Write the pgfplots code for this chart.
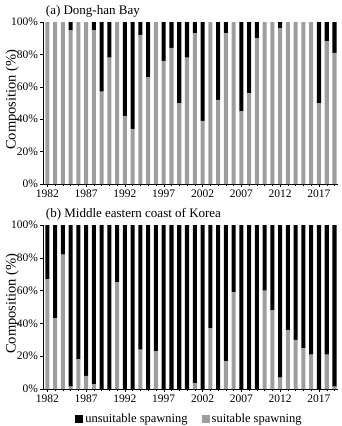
\documentclass[border=0pt]{standalone}
\usepackage{pgfplots}
\pgfplotsset{compat=1.18}
\usepackage{pgfplotstable}
\usepackage{fontspec}
\setmainfont{Liberation Serif}

\definecolor{suitgray}{gray}{0.62}

% Share (%) of suitable / unsuitable spawning conditions per year
\pgfplotstableread{
year suit unsuit
1982 100 0
1983 100 0
1984 100 0
1985 95 5
1986 100 0
1987 100 0
1988 95 5
1989 57 43
1990 78 22
1991 100 0
1992 42 58
1993 34 66
1994 92 8
1995 66 34
1996 100 0
1997 76 24
1998 84 16
1999 50 50
2000 78 22
2001 93 7
2002 39 61
2003 100 0
2004 52 48
2005 93 7
2006 100 0
2007 45 55
2008 56 44
2009 90 10
2010 100 0
2011 100 0
2012 96 4
2013 100 0
2014 100 0
2015 100 0
2016 100 0
2017 50 50
2018 88 12
2019 81 19
}\bay

\pgfplotstableread{
year suit unsuit
1982 67 33
1983 43 57
1984 82 18
1985 1.5 98.5
1986 18 82
1987 8 92
1988 3 97
1989 0 100
1990 0 100
1991 65 35
1992 0 100
1993 0 100
1994 24 76
1995 0 100
1996 23 77
1997 0 100
1998 0 100
1999 0 100
2000 0 100
2001 3.5 96.5
2002 0 100
2003 37 63
2004 0 100
2005 17 83
2006 59 41
2007 0 100
2008 0 100
2009 0 100
2010 60 40
2011 48 52
2012 7 93
2013 36 64
2014 30 70
2015 25 75
2016 21 79
2017 0 100
2018 21 79
2019 1.5 98.5
}\coast

\pgfplotsset{
  compbar/.style={
    scale only axis,
    width=295pt,
    ybar stacked,
    bar width=0.52,
    xmin=1981.5, xmax=2019.5,
    ymin=0, ymax=100,
    axis x line*=bottom,
    axis y line*=left,
    axis line style={black, line width=0.4pt},
    xtick={1982,1987,...,2017},
    xticklabels={1982,1987,1992,1997,2002,2007,2012,2017},
    minor xtick={1982,...,2019},
    ytick={0,20,...,100},
    yticklabels={0\%,20\%,40\%,60\%,80\%,100\%},
    tick align=outside,
    major tick length=3pt,
    minor tick length=2pt,
    tick style={black, line width=0.4pt},
    ticklabel style={font=\fontsize{11.5}{12}\selectfont},
    xticklabel style={yshift=1pt},
    yticklabel style={xshift=1pt},
    ylabel={Composition (\%)},
    ylabel style={font=\fontsize{14.5}{15}\selectfont,
      at={(axis description cs:-0.106,0.52)}, anchor=center},
    title style={font=\fontsize{13}{14}\selectfont,
      at={(axis description cs:0,1)}, anchor=south west, yshift=-4.5pt, xshift=-1pt},
    clip=false,
  },
  suitbar/.style={fill=suitgray, draw=none},
  unsuitbar/.style={fill=black, draw=none},
}

\begin{document}
\begin{tikzpicture}[x=1pt,y=1pt]
\useasboundingbox (0,0) rectangle (342,-426);

\begin{axis}[compbar, height=162pt, at={(43.4pt,-184pt)},
  title={(a) Dong-han Bay}]
  \addplot[suitbar] table[x=year, y=suit] {\bay};
  \addplot[unsuitbar] table[x=year, y=unsuit] {\bay};
\end{axis}

\begin{axis}[compbar, height=164pt, at={(43.4pt,-389pt)},
  title={(b) Middle eastern coast of Korea},
  legend columns=2,
  legend style={draw=none, fill=none,
    at={(0.495,-0.185)}, anchor=center,
    font=\fontsize{12.5}{13}\selectfont,
    /tikz/every even column/.append style={column sep=12pt}},
  legend image code/.code={\fill[#1] (0pt,-4pt) rectangle (8pt,4pt);},
  reverse legend]
  \addplot[suitbar] table[x=year, y=suit] {\coast};
  \addlegendentry{suitable spawning}
  \addplot[unsuitbar] table[x=year, y=unsuit] {\coast};
  \addlegendentry{unsuitable spawning}
\end{axis}
\end{tikzpicture}
\end{document}
